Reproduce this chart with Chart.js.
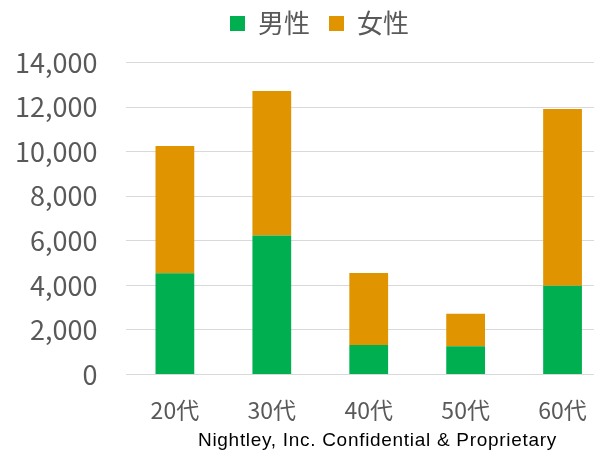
<!DOCTYPE html>
<html lang="ja">
<head>
<meta charset="utf-8">
<title>年代別 男女人数</title>
<script src="https://cdn.jsdelivr.net/npm/chart.js@4/dist/chart.umd.min.js"></script>
<style>
  html, body {
    margin: 0;
    padding: 0;
    background: #ffffff;
    overflow: hidden;
  }
  #wrap {
    position: relative;
    width: 594px;
    height: 452px;
    overflow: hidden;
  }
  #chart {
    position: absolute;
    left: 0;
    top: 0;
  }
  #footer {
    position: absolute;
    left: 198px;
    top: 430px;
    font-family: "Liberation Sans", Arial, sans-serif;
    font-size: 19px;
    line-height: 19px;
    letter-spacing: 0.7px;
    color: #000000;
    white-space: nowrap;
  }
</style>
</head>
<body>
<div id="wrap">
  <canvas id="chart" width="620" height="452"></canvas>
  <div id="footer">Nightley, Inc. Confidential &amp; Proprietary</div>
</div>
<script>
// ─── Data ───
const ageGroups = ['20代', '30代', '40代', '50代', '60代'];
const maleCounts = [4540, 6240, 1320, 1260, 3980];
const femaleCounts = [5710, 6480, 3230, 1460, 7930];
const yTicks = [0, 2000, 4000, 6000, 8000, 10000, 12000, 14000];

const GREEN = '#00b050';
const ORANGE = '#e09400';
const TEXT = '#595959';
const GRID = '#d9d9d9';
const JP_FONT = '"Noto Sans CJK JP", "Noto Sans", sans-serif';

// legend sits near the top edge, a little right of centre
const legendNudge = {
  id: 'legendNudge',
  afterLayout(chart) {
    const lg = chart.legend;
    lg.left += 21;
    lg.right += 21;
    lg.top -= 16;
    lg.bottom -= 16;
  },
};

// ─── Chart ───
const ctx = document.getElementById('chart').getContext('2d');
new Chart(ctx, {
  type: 'bar',
  data: {
    labels: ageGroups,
    datasets: [
      {
        label: '男性',
        data: maleCounts,
        backgroundColor: GREEN,
        borderWidth: 0,
      },
      {
        label: '女性',
        data: femaleCounts,
        backgroundColor: ORANGE,
        borderWidth: 0,
      },
    ],
  },
  options: {
    responsive: false,
    animation: false,
    layout: {
      padding: { left: -14, right: 9, top: -9, bottom: 14 },
    },
    datasets: {
      bar: {
        categoryPercentage: 1,
        barPercentage: 0.4,
      },
    },
    plugins: {
      legend: {
        position: 'top',
        labels: {
          boxWidth: 15,
          boxHeight: 15,
          padding: 19,
          color: TEXT,
          font: { family: JP_FONT, size: 26 },
        },
      },
      tooltip: { enabled: false },
    },
    scales: {
      x: {
        stacked: true,
        offset: true,
        grid: { display: false },
        border: { color: GRID, width: 1 },
        ticks: {
          color: TEXT,
          padding: 14,
          font: { family: JP_FONT, size: 23 },
        },
      },
      y: {
        stacked: true,
        min: 0,
        max: 14000,
        afterBuildTicks: (axis) => {
          axis.ticks = yTicks.map((v) => ({ value: v }));
        },
        // keep the plot top clear of the legend
        afterFit: (axis) => {
          axis.paddingTop = 62.5;
        },
        grid: { color: GRID, lineWidth: 1, drawTicks: false },
        border: { display: false },
        ticks: {
          color: TEXT,
          padding: 29,
          font: { family: JP_FONT, size: 27 },
          callback: (v) => v.toLocaleString('en-US'),
        },
      },
    },
  },
  plugins: [legendNudge],
});
</script>
</body>
</html>
